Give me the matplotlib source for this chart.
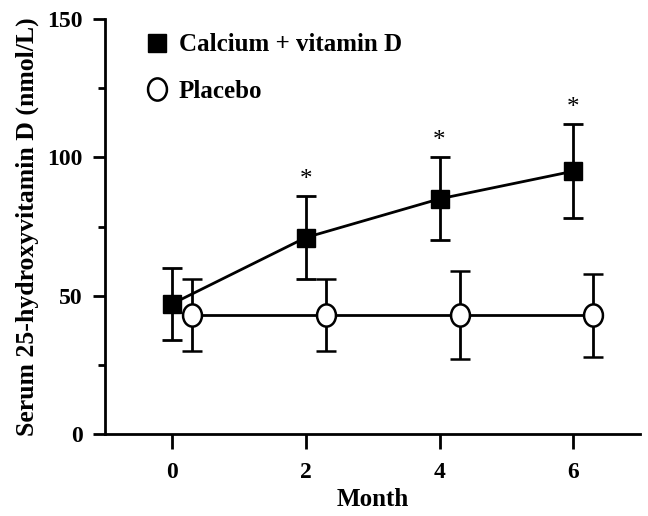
import matplotlib
matplotlib.use("Agg")
import matplotlib.pyplot as plt
from matplotlib.lines import Line2D
from matplotlib.path import Path
from matplotlib.transforms import Affine2D
from matplotlib.ticker import MultipleLocator

months = [0, 2, 4, 6]
placebo_offset = 0.3

calcium_mean = [47, 71, 85, 95]
calcium_upper = [60, 86, 100, 112]
calcium_lower = [34, 56, 70, 78]

placebo_mean = [43, 43, 43, 43]
placebo_upper = [56, 56, 59, 58]
placebo_lower = [30, 30, 27, 28]

significant = [False, True, True, True]

plt.rcParams['font.family'] = ['Liberation Serif', 'DejaVu Serif']
plt.rcParams['font.weight'] = 'bold'

# slightly tall ellipse for the placebo marker
ellipse = Path.unit_circle().transformed(Affine2D().scale(0.85, 1.0))


def main():
    fig = plt.figure(figsize=(6.48, 5.16), dpi=100)
    ax = fig.add_axes([0.162, 0.159, 0.826, 0.804])

    c_err = [[m - lo for m, lo in zip(calcium_mean, calcium_lower)],
             [up - m for m, up in zip(calcium_mean, calcium_upper)]]
    p_err = [[m - lo for m, lo in zip(placebo_mean, placebo_lower)],
             [up - m for m, up in zip(placebo_mean, placebo_upper)]]
    p_x = [m + placebo_offset for m in months]

    ax.errorbar(months, calcium_mean, yerr=c_err, color='black', lw=2,
                marker='s', markersize=13, mfc='black', mec='black',
                capsize=7, capthick=2, elinewidth=2, zorder=3)
    ax.errorbar(p_x, placebo_mean, yerr=p_err, color='black', lw=2,
                marker=ellipse, markersize=16, mfc='white', mec='black',
                mew=1.8, capsize=7, capthick=2, elinewidth=2, zorder=4)

    for m, up, sig in zip(months, calcium_upper, significant):
        if sig:
            ax.text(m, up + 2.0, '*', ha='center', va='bottom',
                    fontsize=18, fontweight='normal')

    ax.set_xlim(-1, 7)
    ax.set_ylim(0, 150)
    ax.set_xticks(months)
    ax.yaxis.set_major_locator(MultipleLocator(50))
    ax.yaxis.set_minor_locator(MultipleLocator(25))
    ax.tick_params(axis='both', which='major', length=9, width=2,
                   labelsize=17)
    ax.tick_params(axis='x', which='major', length=11, pad=9)
    ax.tick_params(axis='y', which='major', pad=7)
    ax.tick_params(axis='y', which='minor', length=5, width=2)
    for lbl in ax.get_xticklabels() + ax.get_yticklabels():
        lbl.set_fontweight('bold')
    for side in ['top', 'right']:
        ax.spines[side].set_visible(False)
    for side in ['left', 'bottom']:
        ax.spines[side].set_linewidth(2)

    ax.set_xlabel('Month', fontsize=18, fontweight='bold', labelpad=4)
    ax.set_ylabel('Serum 25-hydroxyvitamin D (nmol/L)', fontsize=18.5,
                  fontweight='bold', labelpad=6)

    handles = [
        Line2D([], [], ls='none', marker='s', markersize=13,
               mfc='black', mec='black'),
        Line2D([], [], ls='none', marker=ellipse, markersize=16,
               mfc='white', mec='black', mew=1.8),
    ]
    ax.legend(handles, ['Calcium + vitamin D', 'Placebo'], frameon=False,
              loc='upper left', bbox_to_anchor=(0.03, 1.02),
              prop={'size': 18, 'weight': 'bold'}, labelspacing=0.95,
              handletextpad=0.3, handlelength=1.1)

    fig.savefig('out.png', dpi=100)


if __name__ == "__main__":
    main()
